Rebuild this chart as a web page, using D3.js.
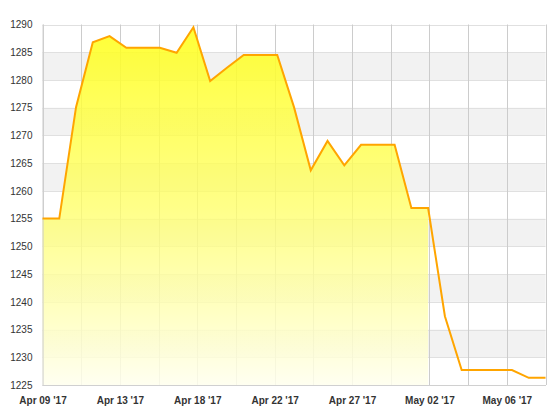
<!DOCTYPE html>
<html>
<head>
<meta charset="utf-8">
<script src="https://cdn.jsdelivr.net/npm/d3@7/dist/d3.min.js"></script>
<style>
  html, body { margin: 0; padding: 0; background: #fff; }
  svg { display: block; }
  text { font-family: "Liberation Sans", Arial, sans-serif; }
</style>
</head>
<body>
<svg id="chart" width="560" height="420"></svg>
<script>
// ---- data ----
const startDate = "2017-04-09";
const endDate = "2017-05-09";
const prices = [
  1255.0, 1255.0, 1275.1, 1286.8, 1287.9, 1285.8, 1285.8, 1285.8,
  1284.9, 1289.5, 1279.8, 1282.2, 1284.5, 1284.5, 1284.5, 1275.1,
  1263.7, 1269.0, 1264.6, 1268.3, 1268.3, 1268.3, 1256.9, 1256.9,
  1237.4, 1227.7, 1227.7, 1227.7, 1227.7, 1226.3, 1226.3
];
const filledCount = 24; // the shaded area covers the first 24 days only
const yTicks = [1225, 1230, 1235, 1240, 1245, 1250, 1255, 1260, 1265, 1270, 1275, 1280, 1285, 1290];
const gridCount = 13; // vertical grid intervals
const xTickLabels = ["Apr 09 '17", "Apr 13 '17", "Apr 18 '17", "Apr 22 '17", "Apr 27 '17", "May 02 '17", "May 06 '17"];

// ---- layout ----
const M = { left: 42.5, right: 545.5, top: 24.5, bottom: 385 };
const svg = d3.select("#chart");
const parse = d3.timeParse("%Y-%m-%d");
const days = d3.timeDay.range(parse(startDate), d3.timeDay.offset(parse(endDate), 1));
const data = days.map((d, i) => ({ date: d, v: prices[i] }));

const x = d3.scaleTime().domain([parse(startDate), parse(endDate)]).range([M.left, M.right]);
const y = d3.scaleLinear().domain([1225, 1290]).range([M.bottom, M.top]);
const xg = d3.scaleLinear().domain([0, gridCount]).range([M.left, M.right]);

// bands
const g = svg.append("g");
for (let i = 0; i < yTicks.length - 1; i++) {
  const lo = yTicks[i], hi = yTicks[i + 1];
  if ((yTicks.length - 2 - i) % 2 === 1) {
    g.append("rect")
      .attr("x", M.left).attr("width", M.right - M.left)
      .attr("y", y(hi)).attr("height", y(lo) - y(hi))
      .attr("fill", "#f2f2f2");
  }
}
// horizontal grid
g.selectAll("line.h").data(yTicks).join("line")
  .attr("x1", M.left).attr("x2", M.right)
  .attr("y1", d => Math.round(y(d)) + 0.5).attr("y2", d => Math.round(y(d)) + 0.5)
  .attr("stroke", "#e0e0e0").attr("stroke-width", 1);
// vertical grid
g.selectAll("line.v").data(d3.range(gridCount + 1)).join("line")
  .attr("x1", d => Math.round(xg(d)) + 0.5).attr("x2", d => Math.round(xg(d)) + 0.5)
  .attr("y1", M.top).attr("y2", M.bottom)
  .attr("stroke", "#cccccc").attr("stroke-width", 1);

// gradient
const defs = svg.append("defs");
const grad = defs.append("linearGradient").attr("id", "fillGrad")
  .attr("gradientUnits", "userSpaceOnUse")
  .attr("x1", 0).attr("x2", 0).attr("y1", y(d3.max(prices))).attr("y2", M.bottom);
grad.append("stop").attr("offset", "0%").attr("stop-color", "#ffff1a").attr("stop-opacity", 0.88);
grad.append("stop").attr("offset", "50%").attr("stop-color", "#ffff66").attr("stop-opacity", 0.78);
grad.append("stop").attr("offset", "100%").attr("stop-color", "#ffffee").attr("stop-opacity", 0.85);

const area = d3.area().x(d => x(d.date)).y0(M.bottom).y1(d => y(d.v));
svg.append("path").datum(data.slice(0, filledCount))
  .attr("d", area).attr("fill", "url(#fillGrad)");

// axis borders
svg.append("line").attr("x1", M.left + 0.5).attr("x2", M.left + 0.5).attr("y1", M.top).attr("y2", M.bottom + 0.5)
  .attr("stroke", "#d0d0d0");
svg.append("line").attr("x1", M.left).attr("x2", M.right + 0.5).attr("y1", M.bottom + 0.5).attr("y2", M.bottom + 0.5)
  .attr("stroke", "#d0d0d0");

// line
const line = d3.line().x(d => x(d.date)).y(d => y(d.v));
svg.append("path").datum(data).attr("d", line)
  .attr("fill", "none").attr("stroke", "#ffa500").attr("stroke-width", 2)
  .attr("stroke-linejoin", "miter");

// y labels
const yAxis = d3.axisLeft(y).tickValues(yTicks).tickSize(0).tickPadding(10).tickFormat(d3.format("d"));
const ya = svg.append("g").attr("transform", `translate(${M.left},0)`).call(yAxis);
ya.select(".domain").remove();
ya.selectAll("text").attr("font-size", 10).attr("fill", "#333").attr("font-family", "'Liberation Sans', Arial, sans-serif");

// x labels
const xAxis = d3.axisBottom(xg).tickValues(xTickLabels.map((_, i) => i * 2)).tickSize(0).tickPadding(12)
  .tickFormat((d, i) => xTickLabels[i]);
const xa = svg.append("g").attr("transform", `translate(0,${M.bottom})`).call(xAxis);
xa.select(".domain").remove();
xa.selectAll("text").attr("font-size", 10).attr("font-weight", "bold").attr("fill", "#333")
  .attr("font-family", "'Liberation Sans', Arial, sans-serif");
</script>
</body>
</html>
